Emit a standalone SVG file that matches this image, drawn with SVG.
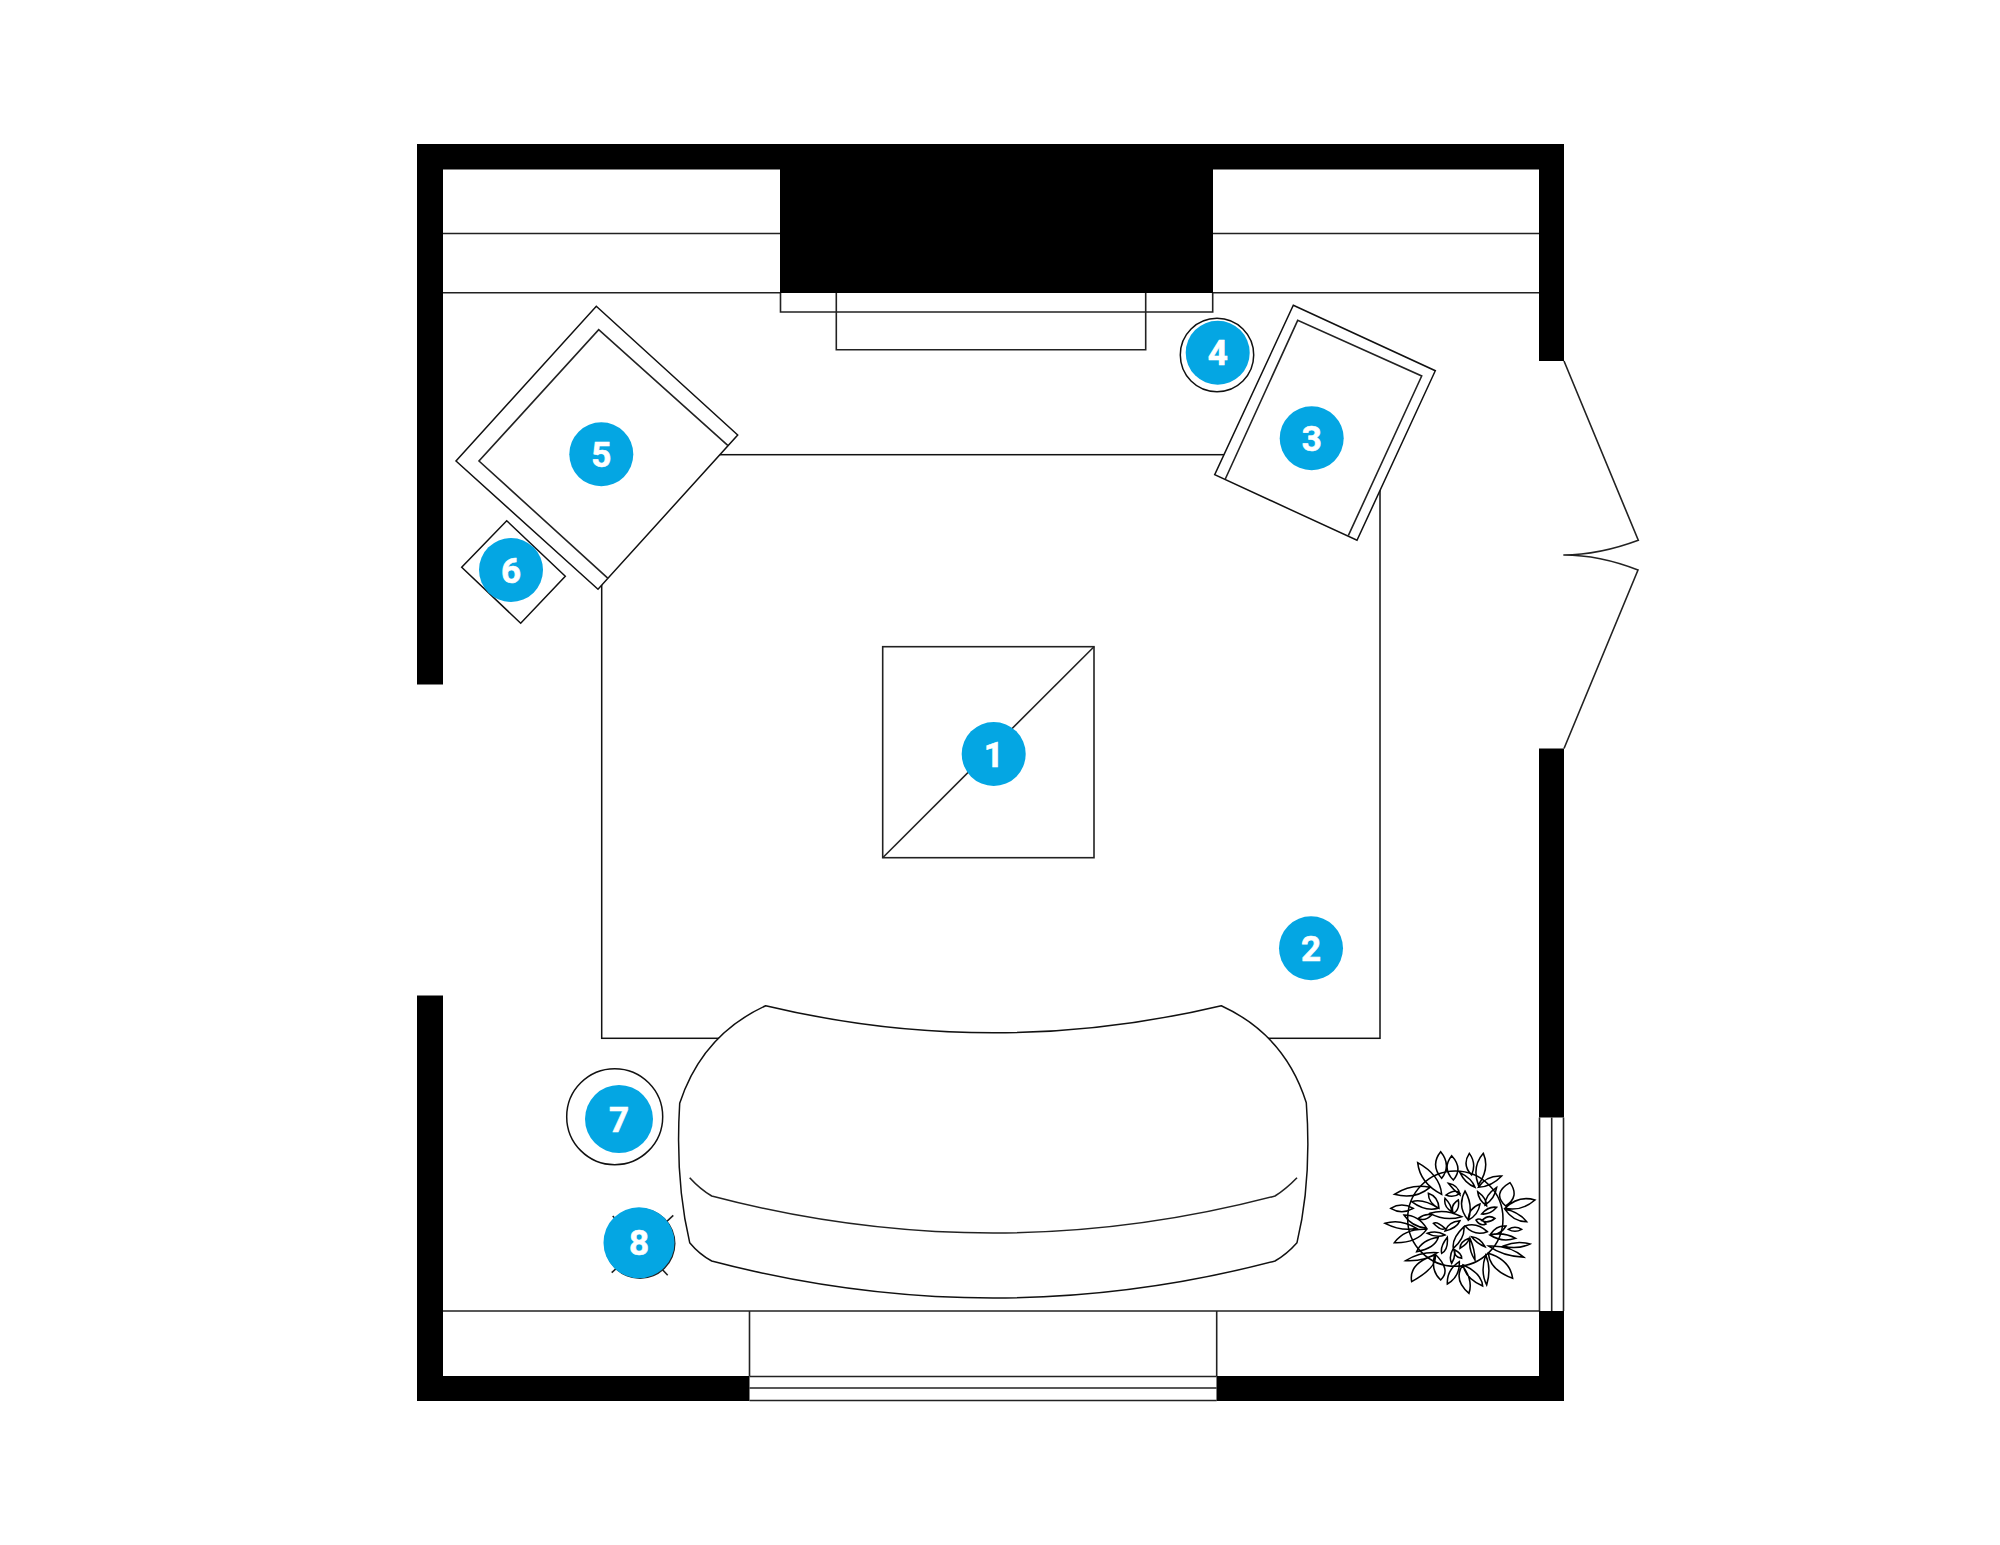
<svg xmlns="http://www.w3.org/2000/svg" width="2000" height="1545" viewBox="0 0 2000 1545">
<style>
.w{fill:#000}
.l{fill:none;stroke:#222;stroke-width:1.6}
.f{fill:#fff;stroke:#111;stroke-width:1.5;stroke-linejoin:miter}
.b{fill:#04a6e3}
.t{fill:#fff;stroke:#fff;stroke-width:.6;font-family:Roboto,"Liberation Sans",sans-serif;font-weight:700;font-size:35px;text-anchor:middle}
.p{fill:none;stroke:#000;stroke-width:4.6;stroke-linejoin:miter}
</style>
<rect width="2000" height="1545" fill="#fff"/>
<g id="walls">
<path class="w" d="M417 144H1564V361H1539V169.500H443V684.500H417Z"/>
<path class="w" d="M417 995.500H443V1376H749.500V1401H417Z"/>
<path class="w" d="M1539 748.500H1564V1117.500H1539Z"/>
<path class="w" d="M1216.500 1376H1539V1311H1564V1401H1216.500Z"/>
<rect class="w" x="780" y="144" width="433" height="149"/>
</g>
<g id="built-ins">
<path class="l" d="M443 233.500H780M1213 233.500H1539M1213 292.800H1539M443 292.800H780"/>
<path class="l" d="M443 1311H1539M749.500 1311V1376M1216.700 1311V1376"/>
<path class="l" d="M749.500 1376.500H1216.700M749.500 1388H1216.700M749.500 1400.500H1216.700"/>
<path class="l" d="M1539.500 1117.500V1311M1551.700 1117.500V1311M1563.500 1117.500V1311"/>
</g>
<g id="hearth">
<path class="l" d="M780.500 293V312H1212.700V293"/>
<path class="l" d="M836.300 293V349.700H1145.700V293"/>
</g>
<g id="door">
<path class="l" d="M1564 361L1638.300 540.300C1615 549 1590 555 1563.300 555C1590 555 1615 561 1638 570L1564 748.500"/>
</g>
<g id="rug">
<rect class="f" x="601.700" y="454.700" width="778.300" height="583.600"/>
</g>
<g id="table-1">
<rect class="l" x="882.700" y="646.700" width="211.300" height="211"/>
<path class="l" d="M882.700 857.700L1094 646.700"/>
<circle class="b" cx="993.700" cy="754" r="32"/>
<text class="t" x="993.700" y="766.500">1</text>
</g>
<g id="label-2">
<circle class="b" cx="1311" cy="948.300" r="32"/>
<text class="t" x="1311" y="961">2</text>
</g>
<g id="chair-3">
<path class="f" d="M1293.300 305.300L1435.300 370.700L1357 540.300L1214.700 474.700Z"/>
<path class="l" d="M1225.300 479L1297.700 320.300L1421.700 376L1348.300 535.700"/>
<circle class="b" cx="1311.700" cy="438.300" r="32"/>
<text class="t" x="1311.700" y="451">3</text>
</g>
<g id="side-table-4">
<circle class="f" cx="1217" cy="355" r="36.700"/>
<circle class="b" cx="1217.700" cy="352.700" r="32"/>
<text class="t" x="1217.700" y="365">4</text>
</g>
<g id="chair-5">
<path class="f" d="M596.300 306.300L737.700 435L598 589.300L456 461Z"/>
<path class="l" d="M608 578.300L479 461L598.700 329.700L728 445.700"/>
<circle class="b" cx="601.300" cy="454.300" r="32"/>
<text class="t" x="601.300" y="467">5</text>
</g>
<g id="side-table-6">
<path class="f" d="M506.700 520.700L565.300 576.300L520.700 623.300L461.700 567.300Z"/>
<circle class="b" cx="511" cy="570" r="32"/>
<text class="t" x="511" y="582.500">6</text>
</g>
<g id="sofa">
<path class="f" d="M765.700 1005.700Q993 1060 1221.300 1005.700Q1285 1035 1306.300 1102.700Q1312 1180 1297 1242.700Q1287 1254 1275 1261Q993 1335 711.700 1261Q699 1254 689.700 1242.700Q675 1180 679.700 1103.300Q702 1035 765.700 1005.700Z"/>
<path class="l" d="M689.700 1177.700Q700 1189 711.700 1196Q993 1270 1275 1196Q1286 1189 1297 1177.700"/>
</g>
<g id="side-table-7">
<circle class="f" cx="614.700" cy="1116.700" r="48"/>
<circle class="b" cx="619" cy="1119" r="34"/>
<text class="t" x="619" y="1131.500">7</text>
</g>
<g id="stool-8">
<path class="l" d="M612.700 1216L667.700 1275.300M673.300 1215.300L611.700 1272.700"/>
<circle cx="640" cy="1243.500" r="35.500" fill="#222"/>
<circle class="b" cx="639" cy="1242.700" r="35.500"/>
<text class="t" x="639" y="1255">8</text>
</g>
<g id="plant" transform="translate(1340 1100) scale(.33333)">
<circle class="p" cx="346" cy="356" r="143"/>
<path class="p" d="M302 155Q270 195 305 235Q335 195 302 155ZM335 167Q305 205 340 240Q370 205 335 167ZM388 160Q365 195 395 225Q410 190 388 160ZM430 160Q395 200 415 255Q450 205 430 160ZM233 188Q240 250 305 283Q300 225 233 188ZM485 228Q440 225 415 262Q455 260 485 228ZM360 218Q375 250 405 262Q395 235 360 218ZM163 283Q215 250 270 262Q225 300 163 283ZM152 325Q185 305 220 325Q185 345 152 325ZM215 305Q250 295 295 325Q255 335 215 305ZM265 280Q265 310 297 325Q295 290 265 280ZM325 250Q340 270 360 285Q355 255 325 250ZM318 285Q345 265 360 280Q340 295 318 285ZM135 370Q180 355 230 385Q185 395 135 370ZM163 428Q195 385 260 388Q230 430 163 428ZM192 345Q235 345 260 385Q215 380 192 345ZM235 355Q255 340 275 345Q255 365 235 355ZM270 340Q315 325 365 350Q315 365 270 340ZM315 295Q310 320 335 335Q335 315 315 295ZM355 300Q330 315 340 340Q360 330 355 300ZM375 273Q350 320 385 360Q400 315 375 273ZM420 312Q385 325 385 360Q415 345 420 312ZM470 262Q435 285 435 315Q465 295 470 262ZM413 275Q415 300 440 318Q440 295 413 275ZM470 322Q445 318 425 342Q450 345 470 322ZM465 355Q445 342 425 362Q445 372 465 355ZM438 372Q420 350 408 360Q420 380 438 372ZM510 248Q455 280 497 318Q540 290 510 248ZM585 300Q535 285 495 325Q545 335 585 300ZM560 365Q535 335 495 328Q520 365 560 365ZM545 388Q525 375 505 388Q525 400 545 388ZM498 378Q470 375 452 402Q480 408 498 378ZM527 415Q490 395 450 405Q485 428 527 415ZM570 432Q530 420 490 438Q530 450 570 432ZM552 472Q510 435 445 438Q490 470 552 472ZM518 535Q510 480 445 460Q450 510 518 535ZM440 555Q455 505 437 465Q420 515 440 555ZM428 558Q425 520 370 495Q375 535 428 558ZM387 580Q400 540 367 497Q340 540 387 580ZM322 552Q360 530 358 485Q320 510 322 552ZM302 540Q335 510 285 462Q270 510 302 540ZM215 545Q295 500 285 465Q205 490 215 545ZM197 482Q255 485 292 458Q240 455 197 482ZM230 455Q285 445 295 412Q245 420 230 455ZM262 400Q290 390 315 405Q290 415 262 400ZM280 370Q290 362 315 385Q305 395 280 370ZM315 393Q325 365 360 362Q350 385 315 393ZM375 378Q410 365 442 395Q405 410 375 378ZM372 380Q335 415 340 445Q375 415 372 380ZM322 412Q300 440 305 460Q325 450 322 412ZM340 445Q325 470 335 490Q350 465 340 445ZM345 450Q340 470 365 475Q365 460 345 450ZM360 445Q360 425 387 415Q385 430 360 445ZM390 415Q385 450 405 480Q405 450 390 415ZM395 410Q420 412 435 440Q410 430 395 410Z"/>
</g>
</svg>
